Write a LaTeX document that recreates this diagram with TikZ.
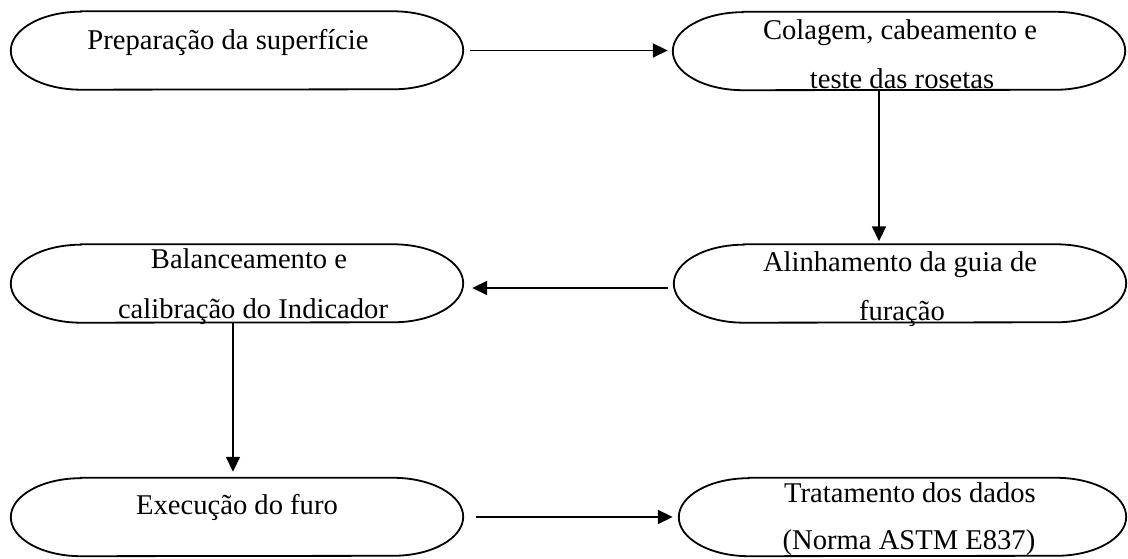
\documentclass[tikz,border=0pt]{standalone}
\usepackage{fontspec}
\setmainfont{Liberation Serif}
\usetikzlibrary{arrows.meta}
\tikzset{
  box/.style={draw=none, minimum width=452pt, minimum height=78pt, inner sep=0pt},
  boxline/.style={line width=1.8pt, black},
  lbl/.style={anchor=base, inner sep=0pt, font=\fontsize{28.6}{48}\selectfont, text=black},
  arr/.style={line width=1.8pt, -{Triangle[length=15pt,width=14pt]}}
}
\newcommand\termshape[1]{%
  \draw[boxline] ([xshift=70pt]#1.north west) -- ([xshift=-70pt]#1.north east)
    arc[start angle=90,end angle=-90,x radius=70pt,y radius=39pt]
    -- ([xshift=70pt]#1.south west)
    arc[start angle=270,end angle=90,x radius=70pt,y radius=39pt] -- cycle;}
\begin{document}
\begin{tikzpicture}[x=1pt,y=1pt]
\useasboundingbox (0,0) rectangle (1128,559);
% boxes (y = 559 - pixel y)
\node[box] (B1) at (237,508.5) {};
\node[box] (B2) at (899,508) {};
\node[box] (B3) at (237,275.5) {};
\node[box] (B4) at (900,275.5) {};
\node[box] (B5) at (237,42) {};
\node[box, minimum width=447pt] (B6) at (902.5,42) {};
\foreach \b in {B1,B2,B3,B4,B5,B6}{\termshape{\b}}
% texts
\node[lbl] (T1) at (228,509) {Preparação da superfície};
\node[lbl] (T2a) at (900,519) {Colagem, cabeamento e};
\node[lbl] (T2b) at (902,470) {teste das rosetas};
\node[lbl] (T3a) at (249,290) {Balanceamento e};
\node[lbl] (T3b) at (253,240) {calibração do Indicador};
\node[lbl] (T4a) at (900,287) {Alinhamento da guia de};
\node[lbl] (T4b) at (902,238) {furação};
\node[lbl] (T5) at (237,44) {Execução do furo};
\node[lbl] (T6a) at (910,56) {Tratamento dos dados};
\node[lbl] (T6b) at (909,9) {(Norma ASTM E837)};
% connectors
\draw[arr] ([xshift=7pt]B1.east) -- ([xshift=-5pt]B1.east -| B2.west);
\coordinate (c2) at ([xshift=-20pt]B2.south);
\draw[arr] (c2) -- ([yshift=3pt]c2 |- B4.north);
\coordinate (c3) at ([xshift=-6pt,yshift=-4.5pt]B4.west);
\draw[arr] (c3) -- ([xshift=9pt]c3 -| B3.east);
\coordinate (c4) at ([xshift=-4pt]B3.south);
\draw[arr] (c4) -- ([yshift=6pt]c4 |- B5.north);
\draw[arr] ([xshift=13pt]B5.east) -- ([xshift=-6pt]B5.east -| B6.west);
\end{tikzpicture}
\end{document}
